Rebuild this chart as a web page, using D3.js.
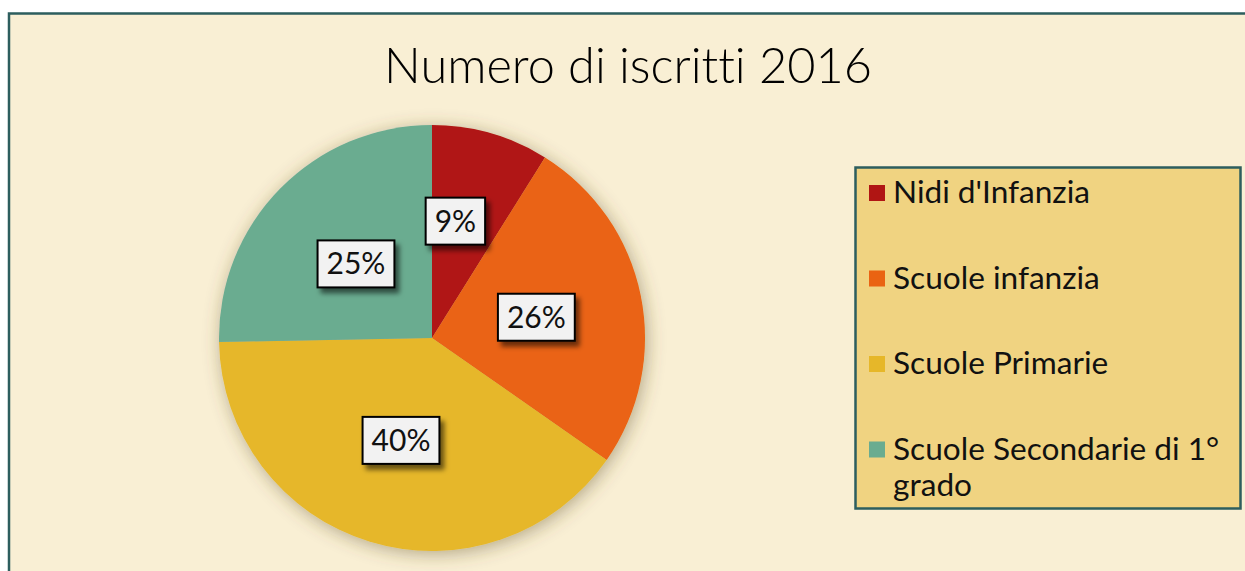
<!DOCTYPE html>
<html>
<head>
<meta charset="utf-8">
<script src="https://cdn.jsdelivr.net/npm/d3@7/dist/d3.min.js"></script>
<style>
  html, body { margin: 0; padding: 0; background: #ffffff; overflow: hidden; }
  text { font-family: "Lato", "DejaVu Sans", sans-serif; font-variant-ligatures: none; }
</style>
</head>
<body>
<div id="chart-area"></div>
<script>
/*
*    pie chart - Numero di iscritti 2016
*/

var title = "Numero di iscritti 2016";
var categories = ["Nidi d'Infanzia", "Scuole infanzia", "Scuole Primarie", "Scuole Secondarie di 1° grado"];
var shares = [8.9, 25.8, 40.0, 25.3];
var sliceColors = ["#B01513", "#EA6312", "#E6B729", "#6AAC90"];

var width = 1245;
var height = 571;

var svg = d3.select("#chart-area").append("svg")
	.attr("width", width)
	.attr("height", height);

var defs = svg.append("defs");

// soft shadow round the pie
var pieShadow = defs.append("filter")
	.attr("id", "pie-shadow")
	.attr("x", "-20%").attr("y", "-20%")
	.attr("width", "140%").attr("height", "140%");
pieShadow.append("feDropShadow")
	.attr("dx", 2).attr("dy", 3)
	.attr("stdDeviation", 9)
	.attr("flood-color", "#5e4e28")
	.attr("flood-opacity", 0.45);

// shadow under label boxes
var boxShadow = defs.append("filter")
	.attr("id", "box-shadow")
	.attr("x", "-30%").attr("y", "-30%")
	.attr("width", "160%").attr("height", "160%");
boxShadow.append("feDropShadow")
	.attr("dx", 4).attr("dy", 5)
	.attr("stdDeviation", 2.5)
	.attr("flood-color", "#000")
	.attr("flood-opacity", 0.55);

// chart area background + border
svg.append("rect")
	.attr("x", 9)
	.attr("y", 13.5)
	.attr("width", width + 20)
	.attr("height", height + 20)
	.attr("fill", "#F9EFD4")
	.attr("stroke", "#2D5E5E")
	.attr("stroke-width", 2.5);

// fit a text element to a target width
function fitWidth(sel, target) {
	var size = parseFloat(sel.style("font-size"));
	var w = sel.node().getComputedTextLength();
	sel.style("font-size", (size * target / w) + "px");
}

// title
var titleText = svg.append("text")
	.attr("x", 628)
	.attr("y", 83)
	.attr("text-anchor", "middle")
	.style("font-size", "48px")
	.style("font-weight", 300)
	.style("fill", "#000")
	.text(title);
fitWidth(titleText, 488);

// pie
var cx = 432, cy = 338, radius = 213;

var pie = d3.pie()
	.sort(null)
	.value((d) => d);

var arc = d3.arc()
	.innerRadius(0)
	.outerRadius(radius);

var labelArc = d3.arc()
	.innerRadius(0)
	.outerRadius(radius);

var arcs = pie(shares);

var pieG = svg.append("g")
	.attr("transform", "translate(" + cx + ", " + cy + ")");

pieG.append("g")
	.attr("filter", "url(#pie-shadow)")
	.selectAll("path")
	.data(arcs)
	.enter().append("path")
		.attr("d", arc)
		.attr("fill", (d, i) => sliceColors[i]);

// data labels (the small slice's label is pushed outward, like Excel does)
var labelNudge = [[-6, -15], [0, 0], [0, 0], [0, 0]];
var labels = pieG.selectAll(".label")
	.data(arcs)
	.enter().append("g")
		.attr("class", "label")
		.attr("transform", (d, i) => {
			var c = labelArc.centroid(d);
			return "translate(" + (c[0] + labelNudge[i][0]) + ", " + (c[1] + labelNudge[i][1]) + ")";
		});

labels.each(function(d, i) {
	var g = d3.select(this);
	var rect = g.append("rect")
		.attr("fill", "#F2F2F2")
		.attr("stroke", "#000")
		.attr("stroke-width", 2)
		.attr("filter", "url(#box-shadow)");
	var t = g.append("text")
		.attr("text-anchor", "middle")
		.attr("y", 11)
		.style("font-size", "30px")
		.style("fill", "#111")
		.text(Math.round(d.data) + "%");
	var w = t.node().getComputedTextLength();
	rect.attr("x", -w / 2 - 9)
		.attr("y", -23)
		.attr("width", w + 18)
		.attr("height", 47);
});

// legend
var legend = svg.append("g");

legend.append("rect")
	.attr("x", 855.5)
	.attr("y", 167.5)
	.attr("width", 385)
	.attr("height", 341)
	.attr("fill", "#F0D381")
	.attr("stroke", "#2D5E5E")
	.attr("stroke-width", 2.5);

var legendFont = 26;
categories.forEach((cat, i) => {
	var row = legend.append("g")
		.attr("transform", "translate(869, " + (185 + i * 85.5) + ")");

	row.append("rect")
		.attr("width", 16)
		.attr("height", 16)
		.attr("fill", sliceColors[i]);

	var lines = cat === "Scuole Secondarie di 1° grado"
		? ["Scuole Secondarie di 1°", "grado"] : [cat];

	lines.forEach((line, j) => {
		row.append("text")
			.attr("class", "legend-text")
			.attr("x", 24)
			.attr("y", 18 + j * 36)
			.style("font-size", legendFont + "px")
			.style("fill", "#111")
			.text(line);
	});
});

// size legend text from the first entry
var first = legend.select(".legend-text");
var w0 = first.node().getComputedTextLength();
legend.selectAll(".legend-text").style("font-size", (legendFont * 197 / w0) + "px");
</script>
</body>
</html>
